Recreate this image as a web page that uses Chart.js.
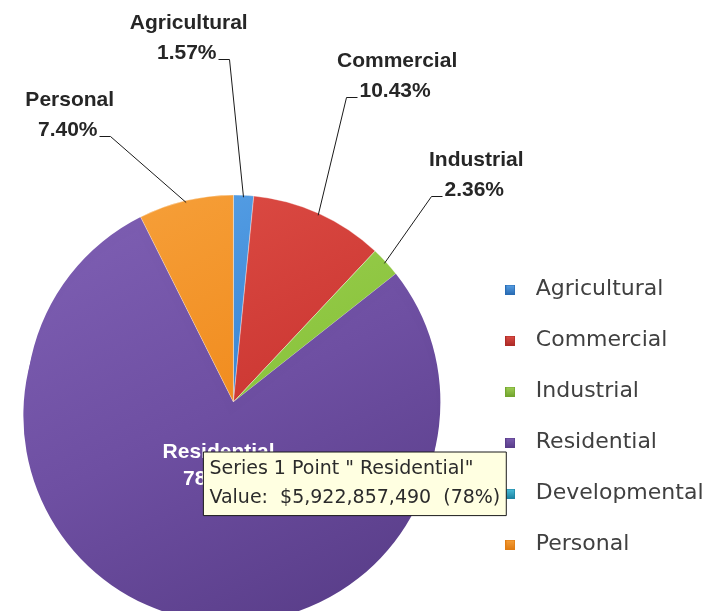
<!DOCTYPE html>
<html>
<head>
<meta charset="utf-8">
<script src="https://cdn.jsdelivr.net/npm/chart.js@4.4.1/dist/chart.umd.min.js"></script>
<style>
  html, body { margin: 0; padding: 0; background: #ffffff; }
  #wrap { position: relative; width: 721px; height: 611px; }
</style>
</head>
<body>
<div id="wrap"><canvas id="c" width="721" height="611"></canvas></div>
<script>
// ---------------- DATA ----------------
const seriesName = 'Series 1';
const categories = ['Agricultural', 'Commercial', 'Industrial', 'Residential', 'Developmental', 'Personal'];
const values = [118850000, 789560000, 178650000, 5922857490, 0, 560190000];

// ---------------- STYLE ----------------
const palette = [
  { light: '#5AA2E6', base: '#3A87D6', dark: '#2A6CB4' },
  { light: '#DE4E46', base: '#CE3A35', dark: '#AE2C28' },
  { light: '#A2D257', base: '#8CC53F', dark: '#73A52F' },
  { light: '#7D5EB2', base: '#6E4FA2', dark: '#5A3E8A' },
  { light: '#4CC0DC', base: '#2AA5C6', dark: '#1E84A2' },
  { light: '#F6A03A', base: '#F18D20', dark: '#E07C12' }
];
const explodePx = [0, 0, 0, 14, 0, 0];   // pulled-out slice
const labelStyle = {
  font: "bold 21px 'Liberation Sans', Arial, sans-serif",
  color: '#262626',
  insideColor: '#ffffff',
  lineGap: 30,
  // leader elbow offset from slice edge point [dx, dy, side]
  elbow: [[-15, -138, 'left'], [28, -118, 'right'], [47, -67, 'right'], null, null, [-76, -67, 'left']],
  insideFrac: 0.24
};
const legendFont = "'DejaVu Sans', sans-serif";
const pieRadius = 207;

function sliceGradient(chart, i) {
  const area = chart.chartArea;
  const p = palette[i];
  if (!area) return p.base;
  const cx = (area.left + area.right) / 2, cy = (area.top + area.bottom) / 2, r = pieRadius;
  const g = chart.ctx.createLinearGradient(cx - r * 0.6, cy - r, cx + r * 0.4, cy + r);
  g.addColorStop(0, p.light);
  g.addColorStop(0.5, p.base);
  g.addColorStop(1, p.dark);
  return g;
}

function makeSwatch(p) {
  const c = document.createElement('canvas');
  c.width = 10; c.height = 10;
  const x = c.getContext('2d');
  const g = x.createLinearGradient(0, 0, 0, 10);
  g.addColorStop(0, p.light); g.addColorStop(1, p.dark);
  x.fillStyle = g; x.fillRect(0, 0, 10, 10);
  x.strokeStyle = p.dark; x.lineWidth = 1; x.strokeRect(0.5, 0.5, 9, 9);
  return c;
}
const swatches = palette.map(makeSwatch);

const total = values.reduce((a, b) => a + b, 0);

// pulled-out slice: the arc is drawn in place and again shifted along its mid-angle
const explodePlugin = {
  id: 'explode',
  afterDatasetUpdate(chart, args) {
    args.meta.data.forEach((el, i) => {
      if (el._explodePatched) return;
      const orig = el.draw;
      el.draw = function (ctx) {
        orig.call(this, ctx);
        const d = explodePx[i] || 0;
        if (!d) return;
        const mid = (this.startAngle + this.endAngle) / 2;
        ctx.save();
        ctx.translate(Math.cos(mid) * d, Math.sin(mid) * d);
        orig.call(this, ctx);
        ctx.restore();
      };
      el._explodePatched = true;
    });
  }
};

const labelsPlugin = {
  id: 'sliceLabels',
  afterDatasetsDraw(chart) {
    const meta = chart.getDatasetMeta(0);
    const ctx = chart.ctx;
    ctx.save();
    ctx.font = labelStyle.font;
    ctx.textBaseline = 'alphabetic';
    meta.data.forEach((el, i) => {
      const v = values[i];
      if (!v) return;
      const pct = (v / total * 100).toFixed(2) + '%';
      const name = chart.data.labels[i];
      const mid = (el.startAngle + el.endAngle) / 2;
      const d = explodePx[i] || 0;
      const ox = el.x + Math.cos(mid) * d, oy = el.y + Math.sin(mid) * d;
      const r = el.outerRadius;
      const cfg = labelStyle.elbow[i];
      if (!cfg) {
        const px = ox + Math.cos(mid) * r * labelStyle.insideFrac - 1;
        const py = oy + Math.sin(mid) * r * labelStyle.insideFrac;
        ctx.fillStyle = labelStyle.insideColor;
        ctx.textAlign = 'center';
        ctx.fillText(name, px, py - 6);
        ctx.fillText(pct, px, py + 21);
        return;
      }
      const P = { x: ox + Math.cos(mid) * (r - 2), y: oy + Math.sin(mid) * (r - 2) };
      const E = { x: Math.round(P.x + cfg[0]) + 0.5, y: Math.round(P.y + cfg[1]) + 0.5 };
      const s = cfg[2] === 'right' ? 1 : -1;
      ctx.strokeStyle = '#1a1a1a';
      ctx.lineWidth = 1;
      ctx.beginPath();
      ctx.moveTo(P.x, P.y);
      ctx.lineTo(E.x, E.y);
      ctx.lineTo(E.x + s * 11, E.y);
      ctx.stroke();
      const w = ctx.measureText(pct).width;
      const tx = E.x + s * (13 + w / 2);
      ctx.fillStyle = labelStyle.color;
      ctx.textAlign = 'center';
      ctx.fillText(pct, tx, E.y - 1);
      ctx.fillText(name, tx + 2, E.y - 1 - labelStyle.lineGap);
    });
    ctx.restore();
  }
};

Chart.Tooltip.positioners.pinned = function (items) {
  if (!items.length) return false;
  const el = items[0].element;
  return { x: el.x - 30, y: el.y + 50, xAlign: 'left', yAlign: 'top' };
};

const chart = new Chart(document.getElementById('c'), {
  type: 'pie',
  data: {
    labels: categories,
    datasets: [{
      label: seriesName,
      data: values,
      backgroundColor: (ctx) => sliceGradient(ctx.chart, ctx.dataIndex),
      borderColor: 'rgba(255,255,255,0.35)',
      borderWidth: (ctx) => (explodePx[ctx.dataIndex] ? 0 : 1),
      hoverOffset: 0
    }]
  },
  options: {
    responsive: false,
    animation: false,
    events: [],
    radius: pieRadius,
    rotation: 0,
    layout: { padding: { left: -3.5, right: 7.5, top: 193, bottom: 0 } },
    plugins: {
      legend: {
        position: 'right',
        align: 'center',
        title: { display: true, text: ' ', padding: 9, font: { size: 10 } },
        labels: {
          usePointStyle: true,
          pointStyleWidth: 29,
          boxHeight: 10,
          padding: 29,
          color: '#404040',
          font: { family: legendFont, size: 22 },
          generateLabels(chart) {
            return chart.data.labels.map((label, i) => ({
              text: label,
              fillStyle: palette[i].base,
              strokeStyle: palette[i].base,
              lineWidth: 0,
              pointStyle: swatches[i],
              hidden: !chart.getDataVisibility(i),
              index: i,
              fontColor: '#404040'
            }));
          }
        }
      },
      tooltip: {
        enabled: true,
        position: 'pinned',
        backgroundColor: '#FFFFE1',
        borderColor: '#1a1a1a',
        borderWidth: 1,
        cornerRadius: 0,
        caretSize: 0,
        caretPadding: 0,
        displayColors: false,
        titleColor: '#2b2b2b',
        bodyColor: '#2b2b2b',
        titleFont: { family: legendFont, size: 19, weight: 'normal' },
        bodyFont: { family: legendFont, size: 19, weight: 'normal' },
        titleMarginBottom: 6,
        padding: { top: 6, bottom: 6, left: 6, right: 6 },
        callbacks: {
          title: (items) => `${seriesName} Point " ${items[0].label}"`,
          label: (item) => {
            const v = item.raw;
            return `Value:  $${v.toLocaleString('en-US')}  (${Math.round(v / total * 100)}%)`;
          }
        }
      }
    }
  },
  plugins: [explodePlugin, labelsPlugin]
});

chart.tooltip.setActiveElements([{ datasetIndex: 0, index: categories.indexOf('Residential') }], { x: 0, y: 0 });
chart.update();
</script>
</body>
</html>
